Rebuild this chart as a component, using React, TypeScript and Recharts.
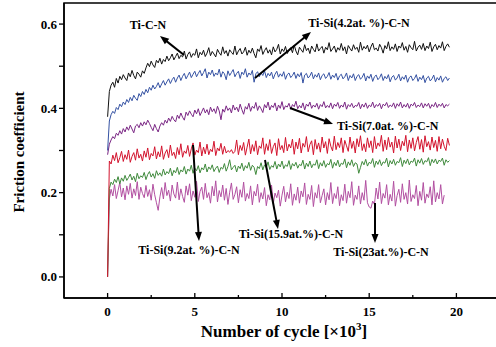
import React from 'react';
import { LineChart, Line, XAxis, YAxis } from 'recharts';

// friction coefficient readings, one value every 0.1 x10^3 cycles
const tiCN = [
  0.38, 0.44, 0.455, 0.462, 0.45, 0.471, 0.46, 0.476, 0.468, 0.48,
  0.472, 0.466, 0.484, 0.475, 0.49, 0.478, 0.47, 0.486, 0.481, 0.474,
  0.489, 0.483, 0.496, 0.507, 0.499, 0.512, 0.503, 0.497, 0.514, 0.508,
  0.519, 0.505, 0.516, 0.511, 0.524, 0.513, 0.52, 0.529, 0.515, 0.523,
  0.531, 0.518, 0.526, 0.522, 0.536, 0.517, 0.528, 0.534, 0.521, 0.53,
  0.526, 0.541, 0.52, 0.533, 0.527, 0.538, 0.523, 0.531, 0.544, 0.525,
  0.535, 0.529, 0.522, 0.54, 0.532, 0.526, 0.546, 0.53, 0.537, 0.524,
  0.539, 0.533, 0.528, 0.548, 0.527, 0.536, 0.542, 0.529, 0.534, 0.545,
  0.526, 0.538, 0.531, 0.543, 0.53, 0.52, 0.541, 0.535, 0.549, 0.528,
  0.537, 0.544, 0.531, 0.539, 0.527, 0.546, 0.534, 0.54, 0.552, 0.529,
  0.541, 0.535, 0.547, 0.53, 0.538, 0.544, 0.532, 0.55, 0.536, 0.527,
  0.545, 0.539, 0.533, 0.551, 0.537, 0.543, 0.53, 0.548, 0.54, 0.534,
  0.553, 0.536, 0.542, 0.547, 0.531, 0.545, 0.539, 0.556, 0.535, 0.541,
  0.548, 0.533, 0.544, 0.538, 0.554, 0.537, 0.546, 0.529, 0.549, 0.542,
  0.536, 0.551, 0.54, 0.545, 0.533, 0.557, 0.538, 0.547, 0.541, 0.55,
  0.534, 0.546, 0.555, 0.539, 0.543, 0.536, 0.552, 0.544, 0.531, 0.549,
  0.541, 0.558, 0.537, 0.546, 0.54, 0.553, 0.535, 0.548, 0.543, 0.556,
  0.538, 0.547, 0.533, 0.551, 0.544, 0.539, 0.559, 0.536, 0.545, 0.55,
  0.54, 0.554, 0.537, 0.548, 0.542, 0.557, 0.535, 0.546, 0.552, 0.539,
  0.549, 0.543, 0.558, 0.537, 0.547, 0.553, 0.545,
];
const si42 = [
  0.30, 0.37, 0.385, 0.393, 0.388, 0.402, 0.397, 0.41, 0.404, 0.415,
  0.409, 0.421, 0.414, 0.426, 0.418, 0.431, 0.424, 0.419, 0.435, 0.428,
  0.44, 0.433, 0.445, 0.437, 0.45, 0.443, 0.455, 0.446, 0.452, 0.461,
  0.449, 0.458, 0.466, 0.455, 0.463, 0.47, 0.459, 0.468, 0.474, 0.462,
  0.472, 0.479, 0.466, 0.476, 0.483, 0.47, 0.478, 0.486, 0.473, 0.481,
  0.488, 0.475, 0.483, 0.49, 0.477, 0.485, 0.494, 0.472, 0.486, 0.48,
  0.491, 0.476, 0.484, 0.479, 0.493, 0.474, 0.487, 0.482, 0.468, 0.489,
  0.478, 0.485, 0.492, 0.475, 0.483, 0.488, 0.471, 0.486, 0.48, 0.494,
  0.474, 0.484, 0.479, 0.49, 0.462, 0.482, 0.487, 0.475, 0.484, 0.478,
  0.489, 0.473, 0.483, 0.477, 0.486, 0.47, 0.481, 0.488, 0.474, 0.482,
  0.476, 0.487, 0.469, 0.48, 0.484, 0.473, 0.478, 0.486, 0.471, 0.482,
  0.475, 0.485, 0.46, 0.479, 0.483, 0.472, 0.477, 0.486, 0.47, 0.48,
  0.474, 0.484, 0.468, 0.478, 0.482, 0.471, 0.476, 0.485, 0.469, 0.479,
  0.473, 0.483, 0.467, 0.477, 0.481, 0.47, 0.475, 0.484, 0.466, 0.478,
  0.472, 0.482, 0.466, 0.476, 0.48, 0.469, 0.474, 0.483, 0.465, 0.477,
  0.471, 0.481, 0.464, 0.475, 0.479, 0.468, 0.473, 0.482, 0.466, 0.476,
  0.47, 0.48, 0.463, 0.474, 0.478, 0.467, 0.472, 0.481, 0.465, 0.475,
  0.469, 0.479, 0.462, 0.473, 0.477, 0.466, 0.471, 0.48, 0.464, 0.474,
  0.468, 0.478, 0.461, 0.472, 0.476, 0.465, 0.47, 0.479, 0.463, 0.473,
  0.467, 0.477, 0.462, 0.471, 0.475, 0.466, 0.472,
];
const si70 = [
  0.29, 0.315, 0.325, 0.333, 0.328, 0.341, 0.336, 0.347, 0.339, 0.352,
  0.344, 0.356, 0.348, 0.36, 0.351, 0.342, 0.358, 0.362, 0.354, 0.366,
  0.358, 0.368, 0.361, 0.372, 0.364, 0.355, 0.347, 0.362, 0.352, 0.344,
  0.358, 0.366, 0.36, 0.372, 0.365, 0.377, 0.369, 0.381, 0.373, 0.368,
  0.384, 0.376, 0.389, 0.379, 0.372, 0.391, 0.383, 0.394, 0.386, 0.38,
  0.396, 0.387, 0.399, 0.383, 0.392, 0.401, 0.389, 0.397, 0.385, 0.403,
  0.392, 0.399, 0.388, 0.405, 0.394, 0.373, 0.398, 0.391, 0.406, 0.395,
  0.401, 0.389, 0.408, 0.396, 0.403, 0.392, 0.41, 0.397, 0.386, 0.404,
  0.398, 0.412, 0.393, 0.405, 0.4, 0.414, 0.395, 0.406, 0.399, 0.39,
  0.409, 0.401, 0.415, 0.396, 0.407, 0.402, 0.413, 0.394, 0.408, 0.4,
  0.416, 0.397, 0.406, 0.403, 0.412, 0.398, 0.409, 0.404, 0.417, 0.399,
  0.407, 0.401, 0.413, 0.396, 0.41, 0.405, 0.415, 0.4, 0.408, 0.403,
  0.412, 0.398, 0.409, 0.404, 0.416, 0.401, 0.407, 0.402, 0.413, 0.399,
  0.41, 0.405, 0.414, 0.4, 0.408, 0.403, 0.415, 0.398, 0.409, 0.404,
  0.412, 0.401, 0.407, 0.405, 0.414, 0.399, 0.41, 0.403, 0.413, 0.4,
  0.408, 0.404, 0.415, 0.401, 0.409, 0.405, 0.412, 0.399, 0.41, 0.406,
  0.414, 0.402, 0.408, 0.404, 0.413, 0.4, 0.411, 0.405, 0.415, 0.401,
  0.409, 0.403, 0.412, 0.4, 0.41, 0.406, 0.414, 0.402, 0.408, 0.404,
  0.413, 0.401, 0.411, 0.405, 0.412, 0.4, 0.409, 0.404, 0.414, 0.402,
  0.41, 0.405, 0.412, 0.401, 0.409, 0.406, 0.41,
];
const si92 = [
  0, 0.275, 0.268, 0.289, 0.276, 0.295, 0.271, 0.283, 0.298, 0.274,
  0.29, 0.279, 0.301, 0.272, 0.286, 0.295, 0.277, 0.304, 0.282, 0.291,
  0.275, 0.299, 0.284, 0.306, 0.278, 0.293, 0.287, 0.309, 0.28, 0.297,
  0.285, 0.311, 0.279, 0.294, 0.302, 0.283, 0.313, 0.288, 0.296, 0.281,
  0.307, 0.29, 0.316, 0.284, 0.299, 0.293, 0.312, 0.286, 0.304, 0.318,
  0.289, 0.301, 0.295, 0.32, 0.287, 0.308, 0.292, 0.315, 0.29, 0.303,
  0.297, 0.322, 0.288, 0.306, 0.299, 0.317, 0.291, 0.31, 0.294, 0.3,
  0.296, 0.302, 0.293, 0.298, 0.325, 0.29, 0.312, 0.3, 0.319, 0.289,
  0.308, 0.327, 0.292, 0.314, 0.298, 0.323, 0.29, 0.311, 0.305, 0.33,
  0.291, 0.316, 0.3, 0.326, 0.293, 0.309, 0.318, 0.288, 0.328, 0.302,
  0.312, 0.295, 0.331, 0.299, 0.315, 0.306, 0.327, 0.291, 0.32, 0.304,
  0.329, 0.294, 0.317, 0.308, 0.333, 0.297, 0.314, 0.323, 0.29, 0.326,
  0.303, 0.318, 0.296, 0.332, 0.306, 0.321, 0.293, 0.328, 0.31, 0.299,
  0.334, 0.302, 0.319, 0.307, 0.33, 0.295, 0.324, 0.311, 0.298, 0.332,
  0.305, 0.322, 0.294, 0.328, 0.309, 0.335, 0.3, 0.316, 0.297, 0.33,
  0.307, 0.323, 0.295, 0.333, 0.304, 0.318, 0.31, 0.336, 0.298, 0.325,
  0.302, 0.331, 0.308, 0.32, 0.294, 0.334, 0.306, 0.327, 0.3, 0.322,
  0.311, 0.336, 0.297, 0.325, 0.305, 0.33, 0.299, 0.319, 0.333, 0.303,
  0.326, 0.296, 0.335, 0.309, 0.321, 0.301, 0.332, 0.307, 0.324, 0.298,
  0.333, 0.304, 0.327, 0.31, 0.3, 0.329, 0.312,
];
const si159 = [
  0, 0.21, 0.225, 0.219, 0.232, 0.224, 0.238, 0.221, 0.235, 0.227,
  0.241, 0.229, 0.236, 0.244, 0.23, 0.239, 0.226, 0.246, 0.233, 0.24,
  0.236, 0.248, 0.231, 0.243, 0.25, 0.237, 0.245, 0.234, 0.252, 0.241,
  0.247, 0.239, 0.256, 0.242, 0.25, 0.245, 0.258, 0.24, 0.253, 0.247,
  0.26, 0.243, 0.254, 0.249, 0.262, 0.244, 0.256, 0.251, 0.265, 0.246,
  0.258, 0.252, 0.264, 0.247, 0.259, 0.254, 0.268, 0.249, 0.261, 0.255,
  0.266, 0.25, 0.258, 0.263, 0.248, 0.26, 0.256, 0.269, 0.251, 0.262,
  0.278, 0.254, 0.26, 0.265, 0.249, 0.263, 0.257, 0.27, 0.252, 0.264,
  0.258, 0.272, 0.253, 0.265, 0.26, 0.243, 0.262, 0.257, 0.271, 0.254,
  0.266, 0.259, 0.273, 0.255, 0.264, 0.26, 0.274, 0.256, 0.268, 0.261,
  0.275, 0.257, 0.266, 0.262, 0.276, 0.255, 0.269, 0.263, 0.272, 0.258,
  0.267, 0.264, 0.277, 0.256, 0.27, 0.262, 0.275, 0.259, 0.268, 0.265,
  0.278, 0.257, 0.271, 0.263, 0.276, 0.26, 0.269, 0.266, 0.279, 0.258,
  0.272, 0.264, 0.277, 0.261, 0.27, 0.267, 0.28, 0.259, 0.273, 0.265,
  0.278, 0.262, 0.271, 0.268, 0.246, 0.26, 0.274, 0.266, 0.279, 0.263,
  0.272, 0.269, 0.281, 0.26, 0.275, 0.267, 0.278, 0.264, 0.273, 0.27,
  0.282, 0.261, 0.276, 0.268, 0.279, 0.265, 0.274, 0.271, 0.283, 0.262,
  0.277, 0.269, 0.28, 0.266, 0.275, 0.272, 0.282, 0.263, 0.278, 0.27,
  0.281, 0.267, 0.276, 0.273, 0.283, 0.264, 0.279, 0.271, 0.28, 0.268,
  0.277, 0.274, 0.282, 0.265, 0.278, 0.272, 0.276,
];
const si23 = [
  0, 0.185, 0.208, 0.192, 0.219, 0.186, 0.205, 0.224, 0.19, 0.211,
  0.183, 0.216, 0.196, 0.222, 0.187, 0.209, 0.193, 0.226, 0.184, 0.213,
  0.198, 0.188, 0.217, 0.191, 0.207, 0.182, 0.22, 0.195, 0.176, 0.158,
  0.19, 0.212, 0.185, 0.224, 0.193, 0.206, 0.18, 0.218, 0.197, 0.187,
  0.225, 0.183, 0.209, 0.191, 0.177, 0.216, 0.194, 0.221, 0.181, 0.204,
  0.189, 0.227, 0.179, 0.203, 0.213, 0.184, 0.222, 0.188, 0.2, 0.175,
  0.215, 0.192, 0.228, 0.178, 0.205, 0.19, 0.218, 0.182, 0.21, 0.172,
  0.201, 0.223, 0.184, 0.196, 0.214, 0.176, 0.207, 0.189, 0.225, 0.18,
  0.198, 0.186, 0.216, 0.171, 0.203, 0.192, 0.22, 0.177, 0.2, 0.185,
  0.212, 0.169, 0.195, 0.183, 0.218, 0.174, 0.199, 0.188, 0.206, 0.168,
  0.194, 0.215, 0.178, 0.201, 0.186, 0.221, 0.17, 0.197, 0.182, 0.213,
  0.175, 0.204, 0.19, 0.223, 0.172, 0.196, 0.184, 0.217, 0.167, 0.2,
  0.187, 0.219, 0.176, 0.193, 0.209, 0.171, 0.2, 0.183, 0.224, 0.174,
  0.198, 0.186, 0.214, 0.169, 0.195, 0.181, 0.22, 0.175, 0.203, 0.188,
  0.226, 0.17, 0.194, 0.184, 0.216, 0.173, 0.2, 0.182, 0.229, 0.176,
  0.166, 0.163, 0.18, 0.172, 0.211, 0.185, 0.225, 0.174, 0.198, 0.187,
  0.219, 0.171, 0.196, 0.18, 0.227, 0.168, 0.193, 0.208, 0.177, 0.221,
  0.184, 0.2, 0.173, 0.23, 0.179, 0.195, 0.186, 0.217, 0.169, 0.203,
  0.182, 0.224, 0.175, 0.197, 0.188, 0.214, 0.171, 0.228, 0.178, 0.2,
  0.185, 0.219, 0.173, 0.194,
];

// sampling grid: one reading every 0.1 x10^3 cycles
const cycles = Array.from({ length: 197 }, (_, i) => +(i * 0.1).toFixed(1));

const xTicks = [0, 2.5, 5, 7.5, 10, 12.5, 15, 17.5, 20];
const yTicks = [0, 0.1, 0.2, 0.3, 0.4, 0.5, 0.6];

const series = [
  { key: 'si23', values: si23, color: '#b24fa1' },
  { key: 'si159', values: si159, color: '#3f8a3c' },
  { key: 'si92', values: si92, color: '#d3132d' },
  { key: 'si70', values: si70, color: '#7a2684' },
  { key: 'si42', values: si42, color: '#3552a3' },
  { key: 'tiCN', values: tiCN, color: '#111111' },
];

const data = cycles.map((x, i) => {
  const row: Record<string, number | null> = { x };
  series.forEach((s) => {
    row[s.key] = s.values[i] ?? null;
  });
  return row;
});

const FONT = '"Liberation Serif", "Times New Roman", serif';

const XTick = (props: any) => {
  const { x, y, payload } = props;
  const major = payload.value % 5 === 0;
  return (
    <g>
      <line x1={x} x2={x} y1={y} y2={y - (major ? 5 : 3)} stroke="#000" strokeWidth={1.3} />
      {major && (
        <text x={x} y={y + 18} textAnchor="middle" fontFamily={FONT} fontWeight="bold" fontSize={13} fill="#000">
          {payload.value}
        </text>
      )}
    </g>
  );
};

const YTick = (props: any) => {
  const { x, y, payload } = props;
  const major = Math.round(payload.value * 10) % 2 === 0;
  return (
    <g>
      <line x1={x - 5} x2={x} y1={y} y2={y} stroke="#000" strokeWidth={1.3} />
      {major && (
        <text x={x - 7} y={y + 4.5} textAnchor="end" fontFamily={FONT} fontWeight="bold" fontSize={13} fill="#000">
          {payload.value.toFixed(1)}
        </text>
      )}
    </g>
  );
};

// annotation arrows (tail -> head) and labels, in page pixels
const arrows = [
  [184, 55, 160, 36],
  [255, 78, 311, 32],
  [290, 108, 333, 124],
  [193, 145, 199, 241],
  [265, 160, 278, 229],
  [375, 203, 375, 243],
];
const notes = [
  { text: 'Ti-C-N', x: 148, y: 29, anchor: 'middle' },
  { text: 'Ti-Si(4.2at. %)-C-N', x: 359, y: 27, anchor: 'middle' },
  { text: 'Ti-Si(7.0at. %)-C-N', x: 337, y: 130, anchor: 'start' },
  { text: 'Ti-Si(9.2at. %)-C-N', x: 189, y: 254, anchor: 'middle' },
  { text: 'Ti-Si(15.9at.%)-C-N', x: 291, y: 238, anchor: 'middle' },
  { text: 'Ti-Si(23at.%)-C-N', x: 381, y: 256, anchor: 'middle' },
];

const Arrow = ({ a }: { a: number[] }) => {
  const [x1, y1, x2, y2] = a;
  const dx = x2 - x1;
  const dy = y2 - y1;
  const len = Math.sqrt(dx * dx + dy * dy);
  const ux = dx / len;
  const uy = dy / len;
  const L = 9;
  const w = 3.5;
  const bx = x2 - ux * L;
  const by = y2 - uy * L;
  return (
    <g>
      <line x1={x1} y1={y1} x2={bx + ux * 2} y2={by + uy * 2} stroke="#000" strokeWidth={2} />
      <polygon
        points={`${x2},${y2} ${bx - uy * w},${by + ux * w} ${bx + uy * w},${by - ux * w}`}
        fill="#000"
      />
    </g>
  );
};

export default function App() {
  return (
    <div style={{ position: 'fixed', left: 0, top: 0, width: 496, height: 347, overflow: 'hidden', background: '#fff' }}>
      <LineChart width={504} height={347} data={data} margin={{ top: 3, right: 4, left: 8, bottom: 19 }}>
        <XAxis
          dataKey="x"
          type="number"
          domain={[-2.5, 22.5]}
          ticks={xTicks}
          allowDataOverflow
          tick={<XTick />}
          tickSize={0}
          tickMargin={0}
          tickLine={false}
          axisLine={{ stroke: '#000', strokeWidth: 1.5 }}
          height={30}
        />
        <YAxis
          type="number"
          domain={[-0.05, 0.65]}
          ticks={yTicks}
          allowDataOverflow
          tick={<YTick />}
          tickSize={0}
          tickMargin={0}
          tickLine={false}
          axisLine={{ stroke: '#000', strokeWidth: 1.5 }}
          width={56}
        />
        {series.map((s) => (
          <Line
            key={s.key}
            dataKey={s.key}
            stroke={s.color}
            strokeWidth={1}
            dot={false}
            type="linear"
            isAnimationActive={false}
          />
        ))}
      </LineChart>
      <svg width={496} height={347} style={{ position: 'absolute', left: 0, top: 0, pointerEvents: 'none' }}>
        <rect x={64} y={3} width={436} height={295} fill="none" stroke="#000" strokeWidth={1.5} />
        {arrows.map((a, i) => (
          <Arrow key={i} a={a} />
        ))}
        {notes.map((n) => (
          <text key={n.text} x={n.x} y={n.y} textAnchor={n.anchor as any} fontFamily={FONT} fontWeight="bold" fontSize={12} fill="#000">
            {n.text}
          </text>
        ))}
        <text
          transform="translate(24,152) rotate(-90)"
          textAnchor="middle"
          fontFamily={FONT}
          fontWeight="bold"
          fontSize={15}
          fill="#000"
        >
          Friction coefficient
        </text>
        <text x={284} y={337} textAnchor="middle" fontFamily={FONT} fontWeight="bold" fontSize={17} fill="#000">
          Number of cycle [×10<tspan dy={-7} fontSize={11}>3</tspan>
          <tspan dy={7}>]</tspan>
        </text>
      </svg>
    </div>
  );
}
